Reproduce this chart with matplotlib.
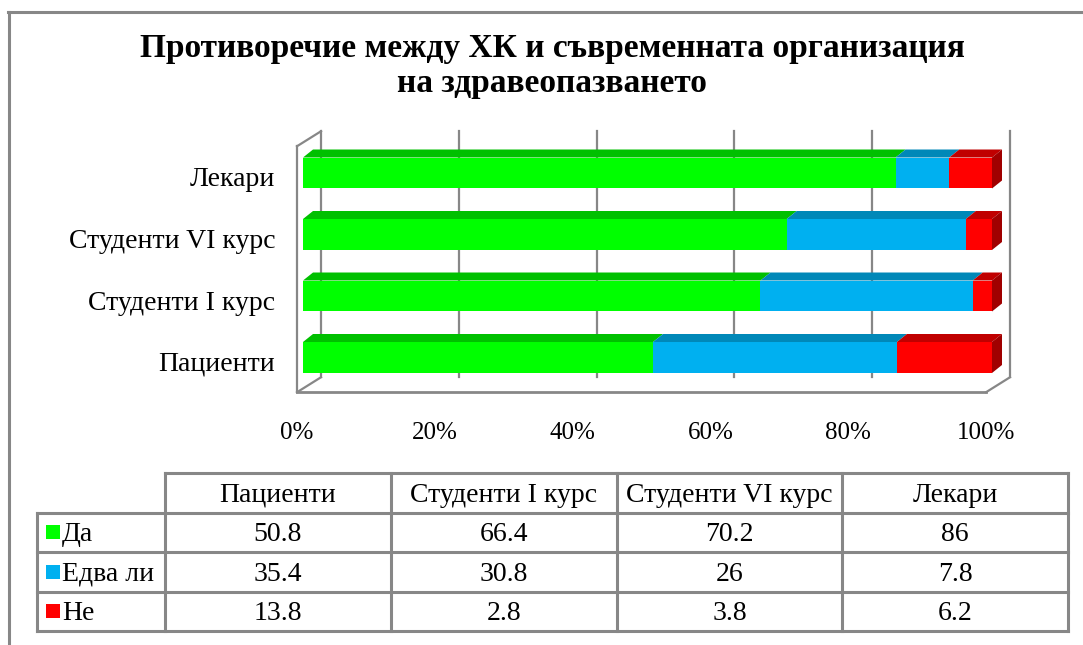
import matplotlib
matplotlib.use("Agg")
import matplotlib.pyplot as plt
import matplotlib.transforms as mtransforms
from matplotlib.patches import Polygon, Rectangle
from matplotlib.lines import Line2D

plt.rcParams['font.family'] = ['Liberation Serif', 'DejaVu Serif']

# ========================== DATA ==========================
groups = ['Пациенти', 'Студенти I курс', 'Студенти VI курс', 'Лекари']
answers = ['Да', 'Едва ли', 'Не']
da = [50.8, 66.4, 70.2, 86]
edva_li = [35.4, 30.8, 26, 7.8]
ne = [13.8, 2.8, 3.8, 6.2]
x_ticks = [0, 20, 40, 60, 80, 100]
x_tick_labels = ['0%', '20%', '40%', '60%', '80%', '100%']
title = 'Противоречие между ХК и съвременната организация\nна здравеопазването'

# ========================== STYLE ==========================
front_colors = ['#00FF00', '#00B0F0', '#FF0000']
top_colors = ['#00C000', '#0088B8', '#C00000']
side_color = '#A00000'
GRAY = '#878787'
BAR_H = 0.504
DEPTH = (10, 8)          # bar depth in pixels
FRONT = (-6, -4)         # front plane of the box, pixels
BACK = (18, 11)          # back wall, pixels
FS = 20

W, H = 1083, 645
fig = plt.figure(figsize=(W / 100, H / 100), dpi=100)


def fx(px):
    return px / W


def fy(py):
    return 1 - py / H


# ========================== CHART ==========================
ax = fig.add_axes([fx(303), fy(388.25), (992 - 303) / W, (388.25 - 142.25) / H])
ax.set_xlim(0, 100)
ax.set_ylim(-0.5, 3.5)
for s in ax.spines.values():
    s.set_visible(False)
ax.patch.set_visible(False)

ident = mtransforms.IdentityTransform()
xt = ax.get_xaxis_transform()
front = xt + mtransforms.Affine2D().translate(*FRONT)
back = xt + mtransforms.Affine2D().translate(*BACK)

# back wall gridlines + box edges
for v in x_ticks:
    ax.plot([v, v], [0, 1], transform=back, color=GRAY, lw=1.6, clip_on=False, zorder=0)
ax.plot([0, 0], [0, 1], transform=front, color=GRAY, lw=1.6, clip_on=False, zorder=0)
ax.plot([0, 100], [0, 0], transform=front, color=GRAY, lw=2.0, clip_on=False, zorder=0)
for px, py in [(0, 1), (0, 0), (100, 0)]:
    a = front.transform((px, py))
    b = back.transform((px, py))
    ax.plot([a[0], b[0]], [a[1], b[1]], transform=ident, color=GRAY, lw=1.6,
            clip_on=False, zorder=0)

# stacked bars with pseudo-3D faces
series = [da, edva_li, ne]
ypos = list(range(len(groups)))
lefts = [0.0] * len(groups)
dx, dy = DEPTH
for k, vals in enumerate(series):
    ax.barh(ypos, vals, left=lefts, height=BAR_H, color=front_colors[k],
            edgecolor='none', zorder=3)
    for i, v in enumerate(vals):
        l, r = lefts[i], lefts[i] + v
        p0 = ax.transData.transform((l, ypos[i] + BAR_H / 2))
        p1 = ax.transData.transform((r, ypos[i] + BAR_H / 2))
        top = [p0, p1, (p1[0] + dx, p1[1] + dy), (p0[0] + dx, p0[1] + dy)]
        ax.add_patch(Polygon(top, closed=True, transform=ident, facecolor=top_colors[k],
                             edgecolor='none', clip_on=False, zorder=4))
        if k == len(series) - 1:
            q1 = ax.transData.transform((r, ypos[i] - BAR_H / 2))
            side = [p1, q1, (q1[0] + dx, q1[1] + dy), (p1[0] + dx, p1[1] + dy)]
            ax.add_patch(Polygon(side, closed=True, transform=ident, facecolor=side_color,
                                 edgecolor='none', clip_on=False, zorder=4))
    lefts = [a + b for a, b in zip(lefts, vals)]

ax.set_xticks(x_ticks, x_tick_labels)
ax.set_yticks(ypos, groups)
ax.tick_params(axis='x', length=0, pad=24, labelsize=FS - 2)
ax.tick_params(axis='y', length=0, pad=20, labelsize=FS)
for lab in ax.get_xticklabels():
    lab.set_transform(lab.get_transform() + mtransforms.Affine2D().translate(FRONT[0], 0))
for lab in ax.get_yticklabels():
    lab.set_transform(lab.get_transform() + mtransforms.Affine2D().translate(0, -4))

fig.text(fx(552), fy(66), title, ha='center', va='center', fontsize=24,
         fontweight='bold', linespacing=1.2)

# ========================== DATA TABLE ==========================
col_w = 225.75
first_w = 128 / col_w
tab = fig.add_axes([fx(37), fy(631), (1068 - 37) / W, 158 / H])
tab.set_xlim(-first_w, len(groups))
tab.set_ylim(len(answers) + 1, 0)
tab.axis('off')

line_kw = dict(color=GRAY, lw=2.2, solid_capstyle='projecting', clip_on=False)
tab.plot([0, len(groups)], [0, 0], **line_kw)
for r in range(1, len(answers) + 2):
    tab.plot([-first_w, len(groups)], [r, r], **line_kw)
tab.plot([-first_w, -first_w], [1, len(answers) + 1], **line_kw)
for c in range(len(groups) + 1):
    tab.plot([c, c], [0, len(answers) + 1], **line_kw)

TY = 0.56  # text centre inside a row
for c, g in enumerate(groups):
    tab.text(c + 0.5, TY, g, ha='center', va='center', fontsize=FS)
for r, (name, vals) in enumerate(zip(answers, series)):
    sq_w = 14 / col_w
    sq_h = 14 / 39.5
    tab.add_patch(Rectangle((-first_w + 9 / col_w, r + 1.5 - sq_h / 2), sq_w, sq_h,
                            facecolor=front_colors[r], edgecolor='none'))
    tab.text(-first_w + 25 / col_w, r + 1 + TY, name, ha='left', va='center', fontsize=FS)
    for c, v in enumerate(vals):
        tab.text(c + 0.5, r + 1 + TY, f'{v:g}', ha='center', va='center', fontsize=FS)

# outer frame
fig.add_artist(Line2D([fx(8), 1.0], [fy(12), fy(12)], color=GRAY, lw=2.2))
fig.add_artist(Line2D([fx(9), fx(9)], [fy(12), 0.0], color=GRAY, lw=2.2))

fig.savefig('out.png', dpi=100)
